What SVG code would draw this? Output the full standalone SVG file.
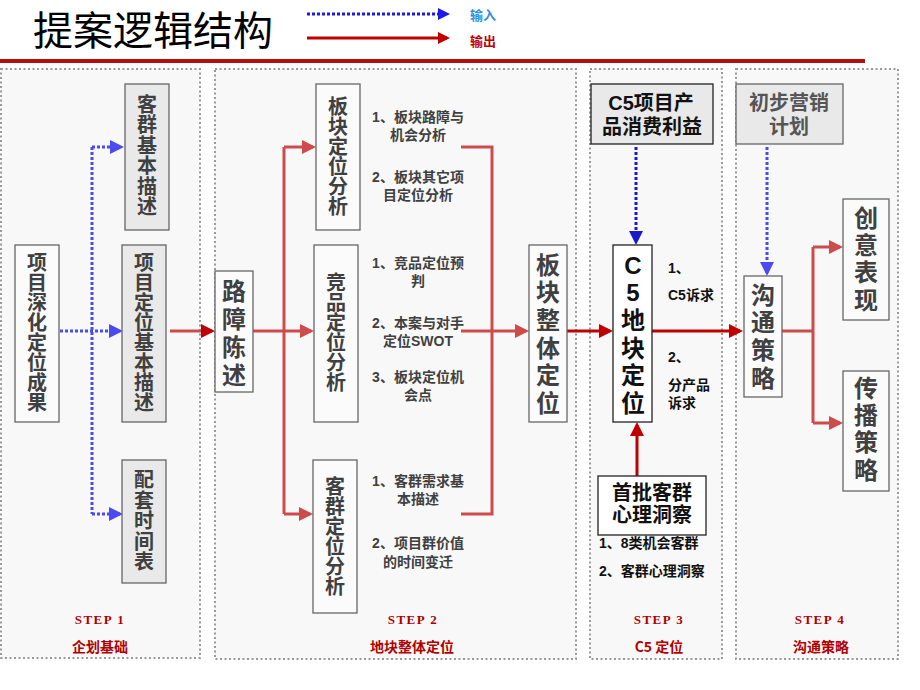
<svg xmlns="http://www.w3.org/2000/svg" width="920" height="690" viewBox="0 0 920 690">
<defs>
<style>
.panel{fill:#f8f8f8;stroke:#999;stroke-width:2;stroke-dasharray:2 2.5}
.gbox{fill:#e9e9e9;stroke:#666;stroke-width:1.3}
.wbox{fill:#fbfbfb;stroke:#666;stroke-width:1.3}
.kbox{fill:#fff;stroke:#222;stroke-width:1.3}
.kgbox{fill:#e9e9e9;stroke:#222;stroke-width:1.3}
.cj{font-family:"Liberation Sans","Noto Sans CJK SC",sans-serif;font-weight:bold;text-anchor:middle}
.g{fill:#404040}
.k{fill:#111}
.note{font-family:"Liberation Sans","Noto Sans CJK SC",sans-serif;font-weight:bold;font-size:14px}
.step{font-family:"Liberation Serif","Noto Serif CJK SC",serif;font-weight:bold;font-size:13px;fill:#b00000;text-anchor:middle;letter-spacing:1.5px}
.stepc{font-family:"Noto Sans CJK SC",sans-serif;font-weight:bold;font-size:14px;fill:#b00000;text-anchor:middle}
.bd{fill:none;stroke:#4b4bf0;stroke-width:3;stroke-dasharray:3 2}
.bdk{fill:none;stroke:#1a1acc;stroke-width:3;stroke-dasharray:3 2}
.rl{fill:none;stroke:#cd4b4b;stroke-width:3}
.rd{fill:none;stroke:#c00000;stroke-width:3}
</style>
<marker id="ab" viewBox="0 0 14 14" refX="11" refY="7" markerWidth="14" markerHeight="14" markerUnits="userSpaceOnUse" orient="auto"><path d="M0,0 L14,7 L0,14 z" fill="#4b4bf0"/></marker>
<marker id="abk" viewBox="0 0 14 14" refX="11" refY="7" markerWidth="14" markerHeight="14" markerUnits="userSpaceOnUse" orient="auto"><path d="M0,0 L14,7 L0,14 z" fill="#1a1acc"/></marker>
<marker id="ar" viewBox="0 0 14 14" refX="11" refY="7" markerWidth="14" markerHeight="14" markerUnits="userSpaceOnUse" orient="auto"><path d="M0,0 L14,7 L0,14 z" fill="#cd4b4b"/></marker>
<marker id="ard" viewBox="0 0 14 14" refX="11" refY="7" markerWidth="14" markerHeight="14" markerUnits="userSpaceOnUse" orient="auto"><path d="M0,0 L14,7 L0,14 z" fill="#c00000"/></marker>
<marker id="lb" viewBox="0 0 12 12" refX="9" refY="6" markerWidth="12" markerHeight="12" markerUnits="userSpaceOnUse" orient="auto"><path d="M0,0 L12,6 L0,12 z" fill="#1a1aee"/></marker>
<marker id="lr" viewBox="0 0 12 12" refX="9" refY="6" markerWidth="12" markerHeight="12" markerUnits="userSpaceOnUse" orient="auto"><path d="M0,0 L12,6 L0,12 z" fill="#c00000"/></marker>
</defs>
<rect width="920" height="690" fill="#fff"/>

<!-- header -->
<g id="title">
<text x="33" y="45" font-family="Noto Sans CJK SC, sans-serif" font-size="40" fill="#000">提案逻辑结构</text>
<rect x="0" y="59" width="865" height="4" fill="#b50d0d"/>
</g>
<g id="legend">
<path d="M307 14 H447" fill="none" stroke="#1a1aee" stroke-width="3" stroke-dasharray="3 2" marker-end="url(#lb)"/>
<path d="M307 38 H447" fill="none" stroke="#c00000" stroke-width="3" marker-end="url(#lr)"/>
<text x="470" y="20" font-family="Noto Sans CJK SC, sans-serif" font-weight="bold" font-size="13" fill="#2f8fdf">输入</text>
<text x="470" y="46" font-family="Noto Sans CJK SC, sans-serif" font-weight="bold" font-size="13" fill="#c00000">输出</text>
</g>

<!-- panels -->
<g id="panels">
<rect class="panel" x="1" y="69" width="199" height="589"/>
<rect class="panel" x="215" y="69" width="361" height="590"/>
<rect class="panel" x="590" y="69" width="132" height="590"/>
<rect class="panel" x="736" y="69" width="162" height="590"/>
</g>

<!-- connectors -->
<g id="connectors">
<path class="bd" d="M60 331 H120" marker-end="url(#ab)"/>
<path class="bd" d="M92 147 V514"/>
<path class="bd" d="M92 147 H121" marker-end="url(#ab)"/>
<path class="bd" d="M92 514 H120" marker-end="url(#ab)"/>
<path class="rl" d="M170 331 H212" marker-end="url(#ard)"/>
<path class="rl" d="M253 331 H311" marker-end="url(#ar)"/>
<path class="rl" d="M284 147 V514"/>
<path class="rl" d="M284 147 H313" marker-end="url(#ar)"/>
<path class="rl" d="M284 514 H310" marker-end="url(#ar)"/>
<path class="rl" d="M461 147 H492 V514 H461"/>
<path class="rl" d="M461 331 H526" marker-end="url(#ar)"/>
<path class="rd" d="M567 331 H610" marker-end="url(#ard)"/>
<path class="bdk" d="M636 147 V242" marker-end="url(#abk)"/>
<path class="rd" d="M637 476 V425" marker-end="url(#ard)"/>
<path class="rd" d="M652 331 H740" marker-end="url(#ard)"/>
<path class="bd" d="M767 147 V273" marker-end="url(#ab)"/>
<path class="rl" d="M782 331 H813"/>
<path class="rl" d="M813 247 V423"/>
<path class="rl" d="M813 247 H840" marker-end="url(#ar)"/>
<path class="rl" d="M813 423 H840" marker-end="url(#ar)"/>
</g>

<!-- panel 1 -->
<g id="n_kequn">
<rect class="gbox" x="125" y="84" width="44" height="146"/>
<text class="cj g" font-size="20"><tspan x="147" y="112">客</tspan><tspan x="147" y="132">群</tspan><tspan x="147" y="153">基</tspan><tspan x="147" y="173">本</tspan><tspan x="147" y="194">描</tspan><tspan x="147" y="214">述</tspan></text>
</g>
<g id="n_shenhua">
<rect class="wbox" x="15" y="245" width="44" height="177"/>
<text class="cj g" font-size="20"><tspan x="37" y="270">项</tspan><tspan x="37" y="290">目</tspan><tspan x="37" y="310">深</tspan><tspan x="37" y="330">化</tspan><tspan x="37" y="350">定</tspan><tspan x="37" y="370">位</tspan><tspan x="37" y="390">成</tspan><tspan x="37" y="410">果</tspan></text>
</g>
<g id="n_dingwei">
<rect class="gbox" x="122" y="245" width="44" height="177"/>
<text class="cj g" font-size="20"><tspan x="144" y="270">项</tspan><tspan x="144" y="290">目</tspan><tspan x="144" y="310">定</tspan><tspan x="144" y="330">位</tspan><tspan x="144" y="350">基</tspan><tspan x="144" y="370">本</tspan><tspan x="144" y="390">描</tspan><tspan x="144" y="410">述</tspan></text>
</g>
<g id="n_peitao">
<rect class="gbox" x="122" y="460" width="44" height="123"/>
<text class="cj g" font-size="20"><tspan x="144" y="487">配</tspan><tspan x="144" y="508">套</tspan><tspan x="144" y="528">时</tspan><tspan x="144" y="549">间</tspan><tspan x="144" y="569">表</tspan></text>
</g>
<g id="step1">
<text class="step" x="100" y="624">STEP 1</text>
<text class="stepc" x="100" y="652">企划基础</text>
</g>

<!-- panel 2 -->
<g id="n_luzhang">
<rect class="wbox" x="215" y="271" width="38" height="121"/>
<text class="cj g" font-size="24"><tspan x="234" y="300">路</tspan><tspan x="234" y="328">障</tspan><tspan x="234" y="356">陈</tspan><tspan x="234" y="384">述</tspan></text>
</g>
<g id="n_bankuai">
<rect class="wbox" x="316" y="84" width="44" height="146"/>
<text class="cj g" font-size="20"><tspan x="338" y="114">板</tspan><tspan x="338" y="134">块</tspan><tspan x="338" y="154">定</tspan><tspan x="338" y="174">位</tspan><tspan x="338" y="194">分</tspan><tspan x="338" y="214">析</tspan></text>
<text class="note g" text-anchor="middle"><tspan x="418" y="122">1、板块路障与</tspan><tspan x="418" y="140">机会分析</tspan><tspan x="418" y="182">2、板块其它项</tspan><tspan x="418" y="200">目定位分析</tspan></text>
</g>
<g id="n_jingpin">
<rect class="wbox" x="314" y="245" width="44" height="177"/>
<text class="cj g" font-size="20"><tspan x="336" y="290">竞</tspan><tspan x="336" y="310">品</tspan><tspan x="336" y="330">定</tspan><tspan x="336" y="350">位</tspan><tspan x="336" y="370">分</tspan><tspan x="336" y="390">析</tspan></text>
<text class="note g" text-anchor="middle"><tspan x="418" y="268">1、竞品定位预</tspan><tspan x="418" y="286">判</tspan><tspan x="418" y="328">2、本案与对手</tspan><tspan x="418" y="346">定位SWOT</tspan><tspan x="418" y="382">3、板块定位机</tspan><tspan x="418" y="400">会点</tspan></text>
</g>
<g id="n_kequndw">
<rect class="wbox" x="313" y="460" width="44" height="153"/>
<text class="cj g" font-size="20"><tspan x="335" y="494">客</tspan><tspan x="335" y="514">群</tspan><tspan x="335" y="534">定</tspan><tspan x="335" y="554">位</tspan><tspan x="335" y="574">分</tspan><tspan x="335" y="594">析</tspan></text>
<text class="note g" text-anchor="middle"><tspan x="418" y="486">1、客群需求基</tspan><tspan x="418" y="504">本描述</tspan><tspan x="418" y="548">2、项目群价值</tspan><tspan x="418" y="567">的时间变迁</tspan></text>
</g>
<g id="n_zhengti">
<rect class="wbox" x="529" y="245" width="38" height="177"/>
<text class="cj g" font-size="24"><tspan x="548" y="274">板</tspan><tspan x="548" y="301">块</tspan><tspan x="548" y="329">整</tspan><tspan x="548" y="357">体</tspan><tspan x="548" y="384">定</tspan><tspan x="548" y="412">位</tspan></text>
</g>
<g id="step2">
<text class="step" x="413" y="624">STEP 2</text>
<text class="stepc" x="412" y="652">地块整体定位</text>
</g>

<!-- panel 3 -->
<g id="n_c5xiangmu">
<rect class="kgbox" x="591" y="84" width="122" height="60"/>
<text class="cj k" font-size="20"><tspan x="651" y="110">C5项目产</tspan><tspan x="652" y="134">品消费利益</tspan></text>
</g>
<g id="n_c5">
<rect class="kbox" x="613" y="245" width="39" height="177"/>
<text class="cj k" font-size="24"><tspan x="633" y="274">C</tspan><tspan x="633" y="301">5</tspan><tspan x="633" y="329">地</tspan><tspan x="633" y="357">块</tspan><tspan x="633" y="384">定</tspan><tspan x="633" y="412">位</tspan></text>
<text class="note k"><tspan x="668" y="273">1、</tspan><tspan x="668" y="300">C5诉求</tspan><tspan x="668" y="362">2、</tspan><tspan x="668" y="390">分产品</tspan><tspan x="668" y="408">诉求</tspan></text>
</g>
<g id="n_shoupi">
<rect class="kbox" x="598" y="476" width="108" height="59"/>
<text class="cj k" font-size="20"><tspan x="652" y="500">首批客群</tspan><tspan x="652" y="522">心理洞察</tspan></text>
<text class="note k"><tspan x="599" y="548">1、8类机会客群</tspan><tspan x="599" y="576">2、客群心理洞察</tspan></text>
</g>
<g id="step3">
<text class="step" x="659" y="624">STEP 3</text>
<text class="stepc" x="659" y="652">C5 定位</text>
</g>

<!-- panel 4 -->
<g id="n_chubu">
<rect class="gbox" x="736" y="84" width="107" height="60"/>
<text class="cj" font-size="20" fill="#555"><tspan x="789" y="110">初步营销</tspan><tspan x="789" y="134">计划</tspan></text>
</g>
<g id="n_goutong">
<rect class="wbox" x="744" y="276" width="38" height="121"/>
<text class="cj g" font-size="24"><tspan x="763" y="304">沟</tspan><tspan x="763" y="331">通</tspan><tspan x="763" y="359">策</tspan><tspan x="763" y="387">略</tspan></text>
</g>
<g id="n_chuangyi">
<rect class="wbox" x="843" y="199" width="46" height="121"/>
<text class="cj g" font-size="24"><tspan x="866" y="227">创</tspan><tspan x="866" y="254">意</tspan><tspan x="866" y="281">表</tspan><tspan x="866" y="309">现</tspan></text>
</g>
<g id="n_chuanbo">
<rect class="wbox" x="843" y="371" width="46" height="120"/>
<text class="cj g" font-size="24"><tspan x="866" y="397">传</tspan><tspan x="866" y="424">播</tspan><tspan x="866" y="451">策</tspan><tspan x="866" y="479">略</tspan></text>
</g>
<g id="step4">
<text class="step" x="820" y="624">STEP 4</text>
<text class="stepc" x="821" y="652">沟通策略</text>
</g>
</svg>
